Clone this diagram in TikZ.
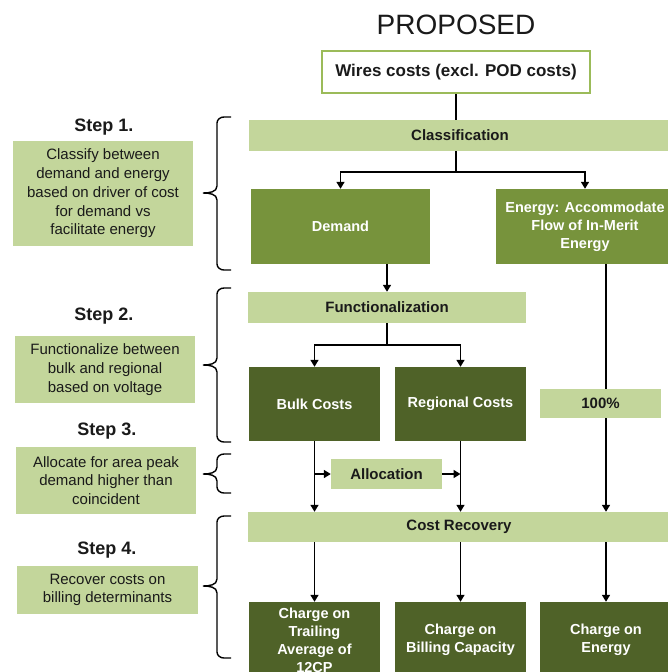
\documentclass[tikz,border=0pt]{standalone}
\usepackage{fontspec}
\setmainfont{Liberation Sans}
\usetikzlibrary{arrows.meta}

\definecolor{lightgr}{HTML}{C3D69B}
\definecolor{midgr}{HTML}{77933C}
\definecolor{darkgr}{HTML}{4F6228}
\definecolor{edgegr}{HTML}{9BBB59}
\definecolor{ink}{HTML}{1A1A1A}

\tikzset{
  bar/.style={fill=lightgr, inner sep=0pt, text=ink,
    font=\bfseries\fontsize{15}{18}\selectfont},
  midbox/.style={fill=midgr, inner sep=0pt, text=white, align=center,
    font=\bfseries\fontsize{14.5}{18}\selectfont},
  darkbox/.style={midbox, fill=darkgr, minimum width=131pt},
  stepbox/.style={fill=lightgr, inner sep=0pt, text=ink, align=center,
    minimum width=180pt, font=\fontsize{15}{18.7}\selectfont},
  steplabel/.style={text=ink, font=\bfseries\fontsize{18}{20}\selectfont},
  link/.style={line width=1.6pt},
  arr/.style={link, -{Triangle[length=7pt,width=8pt]}},
}

\newcommand{\stepbrace}[3]{%
  \draw[line width=1.4pt] (231,#1) -- (224,#1) to[out=180,in=90] (217,#1+6)
    -- (217,#3-7) to[out=-90,in=0] (203,#3) to[out=0,in=90] (217,#3+7)
    -- (217,#2-6) to[out=-90,in=180] (224,#2) -- (231,#2);}

\begin{document}
\begin{tikzpicture}[x=1pt,y=-1pt]
  \useasboundingbox (0,0) rectangle (668,672);
  \clip (0,0) rectangle (668,672);

  % Title and source
  \node[text=ink, font=\fontsize{28}{30}\selectfont] (title) at (456,25) {PROPOSED};
  \node[draw=edgegr, line width=2.5pt, fill=white, text=ink, inner sep=0pt,
    minimum width=268pt, minimum height=42pt,
    font=\bfseries\fontsize{17}{20}\selectfont] (wires) at (456,72) {Wires costs (excl. POD costs)};

  % Flow boxes
  \node[bar, minimum width=422pt, minimum height=31pt] (cls) at (460,135.5) {Classification};
  \node[midbox, minimum width=179pt, minimum height=75pt] (dem) at (340.5,226.5) {Demand};
  \node[midbox, minimum width=178pt, minimum height=75pt] (en) at (585,226.5) {Energy: Accommodate\\Flow of In-Merit\\Energy};
  \node[bar, minimum width=278pt, minimum height=31pt] (func) at (387,307.5) {Functionalization};
  \node[darkbox, minimum height=74pt] (bulk) at (314.5,404) {Bulk Costs};
  \node[darkbox, minimum height=74pt] (reg) at (460.5,404) {Regional Costs};
  \node[bar, minimum width=121pt, minimum height=29pt] (pct) at (600.5,403.5) {100\%};
  \node[bar, minimum width=111pt, minimum height=30pt] (alloc) at (386.5,474) {Allocation};
  \node[bar, minimum width=422pt, minimum height=30pt] (rec) at (459,527) {Cost Recovery};
  \node[darkbox, minimum height=76pt] (c12) at (314.5,640) {Charge on\\Trailing\\Average of\\12CP};
  \node[darkbox, minimum height=76pt] (ccap) at (460.5,640) {Charge on\\Billing Capacity};
  \node[darkbox, minimum width=132pt, minimum height=76pt] (cen) at (606,640) {Charge on\\Energy};

  % Connectors
  \coordinate (f1) at (456,172);
  \coordinate (f2) at (387,345);
  \draw[link] (wires) -- (wires |- cls.north);
  \draw[link] (wires |- cls.south) -- (f1);
  \draw[arr] (f1) -| (dem.north);
  \draw[arr] (f1) -| (en.north);
  \draw[arr] (func.north |- dem.south) -- (func.north);
  \draw[link] (func) -- (f2);
  \draw[arr] (f2) -| (bulk.north);
  \draw[arr] (f2) -| (reg.north);
  \draw[link] (cen.north |- en.south) -- (cen.north |- pct.north);
  \draw[arr] (cen.north |- pct.south) -- (cen.north |- rec.north);
  \draw[arr] (bulk) -- (bulk |- rec.north);
  \draw[arr] (reg) -- (reg |- rec.north);
  \draw[arr] (bulk |- alloc) -- (alloc);
  \draw[arr] (alloc) -- (reg |- alloc);
  \draw[arr] (bulk |- rec.south) -- (c12);
  \draw[arr] (reg |- rec.south) -- (ccap);
  \draw[arr] (cen |- rec.south) -- (cen);

  % Steps
  \node[steplabel] (s1) at (104,127) {Step 1.};
  \node[stepbox, minimum height=105pt] (t1) at (103,193.5) {Classify between\\demand and energy\\based on driver of cost\\for demand vs\\facilitate energy};
  \node[steplabel] (s2) at (104,316) {Step 2.};
  \node[stepbox, minimum height=67pt] (t2) at (105,369.5) {Functionalize between\\bulk and regional\\based on voltage};
  \node[steplabel] (s3) at (107,431) {Step 3.};
  \node[stepbox, minimum height=67pt] (t3) at (106,480.5) {Allocate for area peak\\demand higher than\\coincident};
  \node[steplabel] (s4) at (107,550) {Step 4.};
  \node[stepbox, minimum width=181pt, minimum height=48pt] (t4) at (107.5,590) {Recover costs on\\billing determinants};

  % Braces
  \stepbrace{117}{270}{193}
  \stepbrace{288}{442}{365}
  \stepbrace{454}{493}{474}
  \stepbrace{516}{658}{586}
\end{tikzpicture}
\end{document}
